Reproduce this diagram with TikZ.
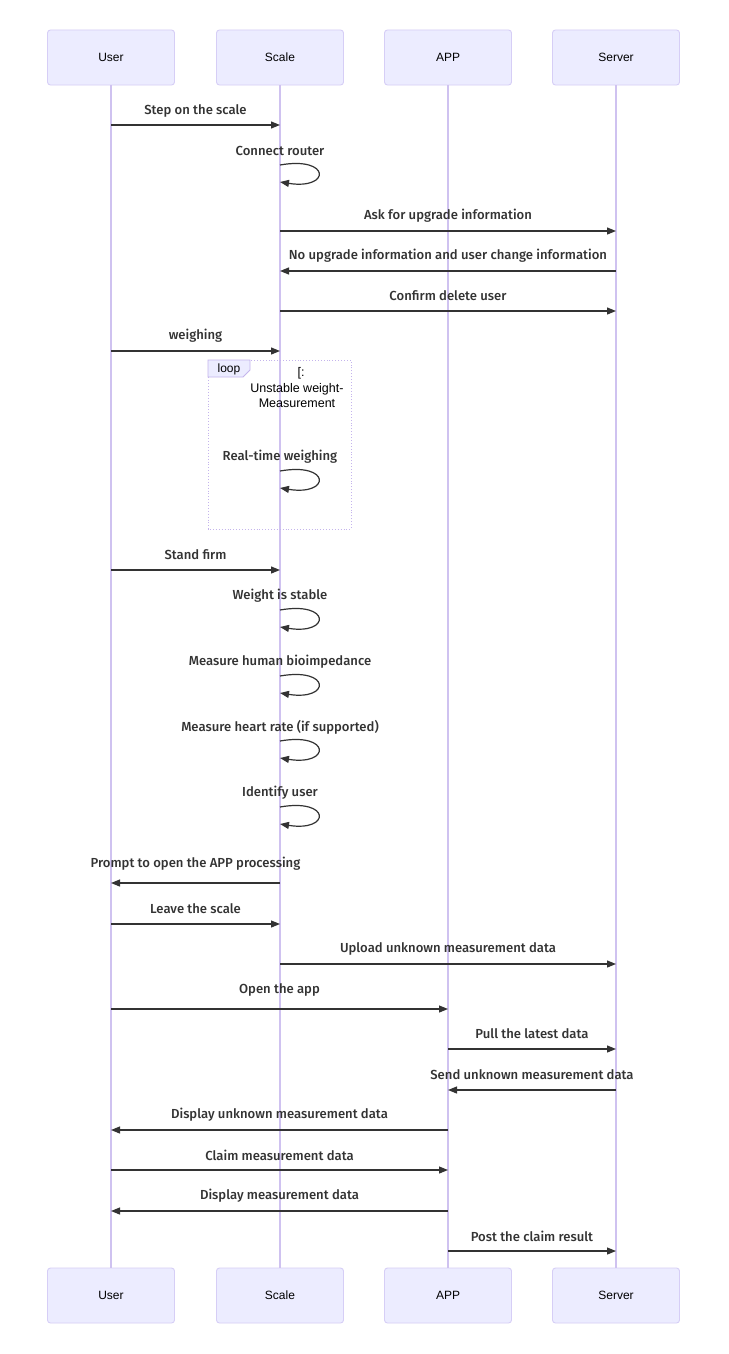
\documentclass[tikz,border=0pt]{standalone}
\usepackage{fontspec}
\setmainfont{Liberation Sans}
\newfontfamily\lblfont{Fira Sans}[UprightFont=* Medium]
\usetikzlibrary{arrows.meta,calc}
\definecolor{actfill}{HTML}{ECECFF}
\definecolor{actdraw}{HTML}{D6CEF6}
\definecolor{lifeln}{HTML}{CFC2F0}
\definecolor{txt}{HTML}{333333}
\definecolor{loopdraw}{HTML}{C4B4EC}
\begin{document}
\begin{tikzpicture}[x=1pt,y=-1pt,
  actor/.style={rectangle,rounded corners=3pt,fill=actfill,draw=actdraw,line width=0.9pt,
    minimum width=127pt,minimum height=55pt,inner sep=0pt,font=\fontsize{12}{14}\selectfont,text=black},
  lifeline/.style={draw=lifeln,line width=1.2pt},
  msg/.style={draw=txt,line width=1.2pt,-{Triangle[length=9pt,width=7pt]}},
  lbl/.style={font=\lblfont\fontsize{13.1}{15}\selectfont,text=txt,inner sep=0pt},
  looptxt/.style={font=\fontsize{12.5}{15.5}\selectfont,text=black,inner sep=0pt,align=center}]
\useasboundingbox[fill=white] (0,0) rectangle (728,1354);

% actors
\node[actor] (uT) at (111,57.5) {User};
\node[actor] (sT) at (280,57.5) {Scale};
\node[actor] (aT) at (448,57.5) {APP};
\node[actor] (vT) at (616,57.5) {Server};
\node[actor] (uB) at (111,1295.5) {User};
\node[actor] (sB) at (280,1295.5) {Scale};
\node[actor] (aB) at (448,1295.5) {APP};
\node[actor] (vB) at (616,1295.5) {Server};

\draw[lifeline] (uT.south) -- (uB.north);
\draw[lifeline] (sT.south) -- (sB.north);
\draw[lifeline] (aT.south) -- (aB.north);
\draw[lifeline] (vT.south) -- (vB.north);

% loop box
\draw[loopdraw,line width=0.9pt,dotted] (208,360) rectangle (351,529);
\draw[loopdraw,line width=0.9pt,fill=actfill] (208,360) -- (250,360) -- (250,370) -- (243,377) -- (208,377) -- cycle;
\node[font=\fontsize{12}{14}\selectfont,inner sep=0pt] (looplbl) at (229,369) {loop};
\node[looptxt] (loopcond) at (297,388) {\hspace*{8pt}[:\\Unstable weight-\\Measurement};

% messages between lifelines
\foreach \y/\a/\b/\g/\t in {
  125/uT/sT/14.5/Step on the scale,
  231/sT/vT/15/Ask for upgrade information,
  271/vT/sT/15/No upgrade information and user change information,
  311/sT/vT/15/Confirm delete user,
  351/uT/sT/15/weighing,
  570/uT/sT/15/Stand firm,
  883/sT/uT/19/Prompt to open the APP processing,
  924/uT/sT/15.5/Leave the scale,
  964/sT/vT/15.5/Upload unknown measurement data,
  1009/uT/aT/19.5/Open the app,
  1049/aT/vT/15/Pull the latest data,
  1090/vT/aT/15/Send unknown measurement data,
  1130/aT/uT/15.5/Display unknown measurement data,
  1170/uT/aT/15/Claim measurement data,
  1211/aT/uT/15/Display measurement data,
  1251/aT/vT/15/Post the claim result}{
  \draw[msg] (\a.south |- 0,\y) coordinate (p) -- (\b.south |- 0,\y) coordinate (q);
  \node[lbl] at ($(p)!0.5!(q)+(0,-\g)$) {\t};
}

% self messages on Scale
\foreach \y/\t in {
  165/Connect router,
  471/Real-time weighing,
  610/Weight is stable,
  676/Measure human bioimpedance,
  741/Measure heart rate (if supported),
  807/Identify user}{
  \coordinate (s0) at (sT.south |- 0,\y);
  \coordinate (s1) at (sT.south |- 0,\y+17);
  \draw[msg] (s0) .. controls ($(s0)+(51,-9)$) and ($(s1)+(51,8)$) .. (s1);
  \node[lbl] at ($(s0)+(0,-14)$) {\t};
}
\end{tikzpicture}
\end{document}
